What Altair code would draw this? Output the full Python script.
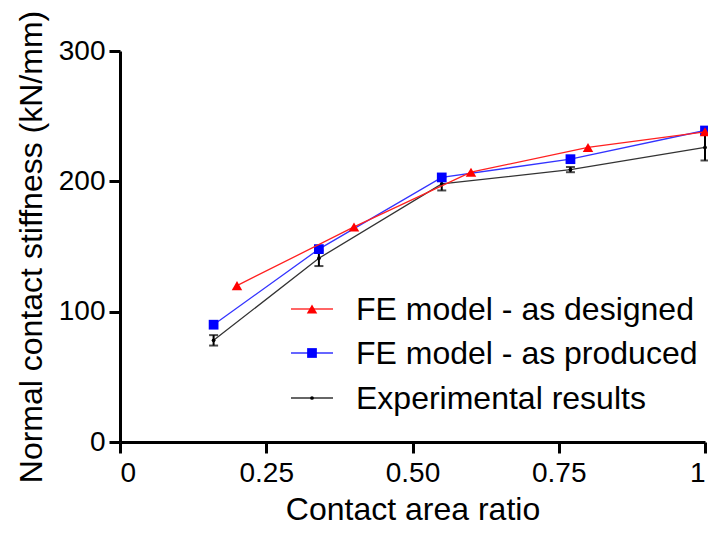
import altair as alt
import pandas as pd

# Data
exp_x = [0.16, 0.34, 0.55, 0.77, 1.0]
exp_y = [78, 141, 198, 209, 226]
exp_err = [4, 6, 5, 2, 10]

prod_x = [0.16, 0.34, 0.55, 0.77, 1.0]
prod_y = [90, 148, 203, 217, 239]

des_x = [0.2, 0.4, 0.6, 0.8, 1.0]
des_y = [120, 165, 207, 226, 238]

series_names = ["FE model - as designed", "FE model - as produced", "Experimental results"]
series_colors = ["#ff0000", "#0000ff", "#000000"]
series_shapes = ["triangle-up", "square", "circle"]

FONT = "Liberation Sans"

exp_df = pd.DataFrame({
    "x": exp_x, "y": exp_y,
    "lo": [a - b for a, b in zip(exp_y, exp_err)],
    "hi": [a + b for a, b in zip(exp_y, exp_err)],
})
prod_df = pd.DataFrame({"x": prod_x, "y": prod_y})
des_df = pd.DataFrame({"x": des_x, "y": des_y})

xs = alt.Scale(domain=[0, 1], nice=False, zero=False)
ys = alt.Scale(domain=[0, 300], nice=False)

x_axis = alt.Axis(values=[0, 0.25, 0.5, 0.75, 1], labelExpr="datum.value == 0 ? '0' : datum.value == 1 ? '1' : format(datum.value, '.2f')",
                  title="Contact area ratio", grid=False)
y_axis = alt.Axis(values=[0, 100, 200, 300], title="Normal contact stiffness (kN/mm)", grid=False)

X = alt.X("x:Q", scale=xs, axis=x_axis)
Y = alt.Y("y:Q", scale=ys, axis=y_axis)

base_exp = alt.Chart(exp_df)
exp_line = base_exp.mark_line(color="#333333", strokeWidth=1.3).encode(x=X, y=Y)
exp_bar = base_exp.mark_rule(color="#000000", strokeWidth=2).encode(x="x:Q", y="lo:Q", y2="hi:Q")
exp_cap_lo = base_exp.mark_tick(color="#000000", thickness=2, size=9, orient="horizontal").encode(x="x:Q", y="lo:Q")
exp_cap_hi = base_exp.mark_tick(color="#000000", thickness=2, size=9, orient="horizontal").encode(x="x:Q", y="hi:Q")
exp_pts = base_exp.mark_point(shape="circle", filled=True, color="#000000", size=14, opacity=1).encode(x="x:Q", y="y:Q")

prod_line = alt.Chart(prod_df).mark_line(color="#3333ff", strokeWidth=1.3).encode(x=X, y=Y)
prod_pts = alt.Chart(prod_df).mark_point(shape="square", filled=True, color="#0000ff", size=95, opacity=1).encode(x="x:Q", y="y:Q")

des_line = alt.Chart(des_df).mark_line(color="#ff2020", strokeWidth=1.3).encode(x=X, y=Y)
des_pts = alt.Chart(des_df).mark_point(shape="triangle-up", filled=True, color="#ff0000", size=110, opacity=1).encode(x="x:Q", y="y:Q")

# Manual legend
leg_y = [258, 302, 347]
leg_sizes = [110, 95, 14]
legend_layers = []
for name, col, shp, ly, sz in zip(series_names, series_colors, series_shapes, leg_y, leg_sizes):
    d = alt.Chart(pd.DataFrame({"label": [name]}))
    legend_layers.append(d.mark_rule(color=col, strokeWidth=1.3, opacity=0.8).encode(
        x=alt.value(171), x2=alt.value(213), y=alt.value(ly)))
    legend_layers.append(d.mark_point(shape=shp, filled=True, color=col, size=sz, opacity=1).encode(
        x=alt.value(192), y=alt.value(ly)))
    legend_layers.append(d.mark_text(align="left", baseline="middle", font=FONT, fontSize=32, color="#000000").encode(
        x=alt.value(236), y=alt.value(ly + 1), text="label:N"))

chart = alt.layer(
    exp_line, exp_bar, exp_cap_lo, exp_cap_hi, exp_pts,
    prod_line, prod_pts,
    des_line, des_pts,
    *legend_layers
).properties(
    width=585, height=391,
    padding={"left": 112, "top": 43, "right": 3, "bottom": 83},
    autosize=alt.AutoSizeParams(type="none"),
    background="white",
).configure_view(stroke=None).configure_axis(
    domainColor="#000000", domainWidth=3, tickColor="#000000", tickWidth=3, tickSize=11,
    labelFont=FONT, labelFontSize=28, labelColor="#000000", labelPadding=4,
    titleFont=FONT, titleFontSize=32, titleColor="#000000", titleFontWeight="normal",
).configure_axisX(titlePadding=7, labelPadding=6, titleFontSize=32).configure_axisY(titlePadding=10)

chart.save("out.html", embed_options={"renderer": "svg", "actions": False})
